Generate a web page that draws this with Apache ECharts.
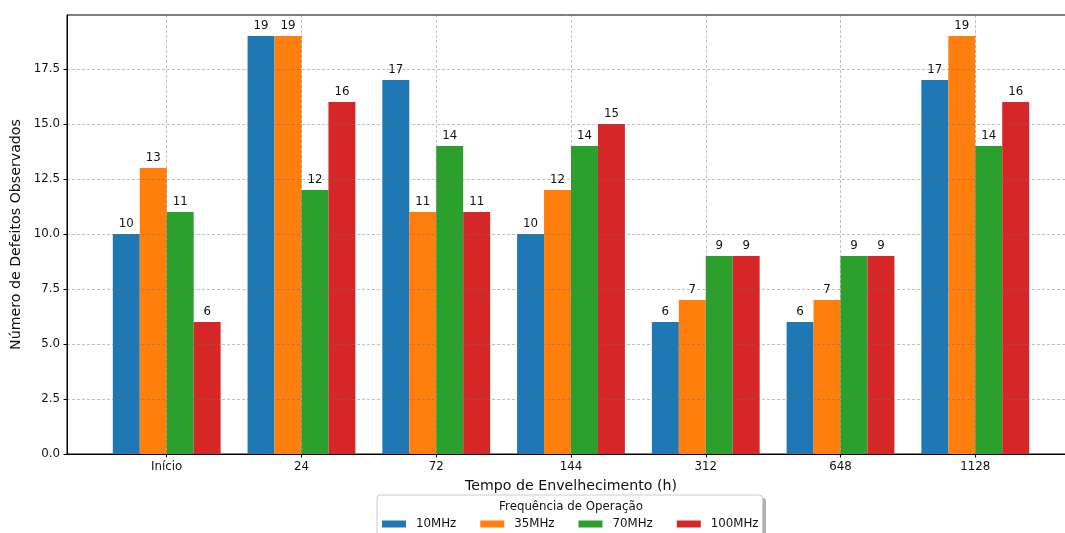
<!DOCTYPE html>
<html>
<head>
<meta charset="utf-8">
<script src="https://cdn.jsdelivr.net/npm/echarts@6/dist/echarts.min.js"></script>
<style>html,body{margin:0;padding:0;background:#fff}#c{width:1065px;height:533px}</style>
</head>
<body>
<div id="c"></div>
<script>
const categories = ['Início', '24', '72', '144', '312', '648', '1128'];
const seriesNames = ['10MHz', '35MHz', '70MHz', '100MHz'];
const v10 = [10, 19, 17, 10, 6, 6, 17];
const v35 = [13, 19, 11, 12, 7, 7, 19];
const v70 = [11, 12, 14, 14, 9, 9, 14];
const v100 = [6, 16, 11, 15, 9, 9, 16];
const yTicks = [0, 2.5, 5, 7.5, 10, 12.5, 15, 17.5];
const colors = ['#1f77b4', '#ff7f0e', '#2ca02c', '#d62728'];
const allValues = [v10, v35, v70, v100];

const barW = 0.2;
const FONT = 'DejaVu Sans';
const small = 11.8, big = 14.2;

const chart = echarts.init(document.getElementById('c'));
const gridStyle = {show: true, lineStyle: {color: 'rgba(110,110,110,0.55)', width: 0.8, type: [3, 2]}};

const series = allValues.map((vals, j) => ({
  type: 'custom',
  name: seriesNames[j],
  itemStyle: {color: colors[j]},
  z: 2,
  data: vals.map((v, i) => [i, v]),
  renderItem: function (params, api) {
    const x = api.value(0) + (j - 1.5) * barW;
    const v = api.value(1);
    const p0 = api.coord([x - barW / 2, v]);
    const p1 = api.coord([x + barW / 2, 0]);
    return {
      type: 'rect',
      shape: {x: p0[0], y: p0[1], width: p1[0] - p0[0], height: p1[1] - p0[1]},
      style: {fill: colors[j]},
      textContent: {style: {text: String(v), fill: '#111', fontSize: small, fontFamily: FONT}},
      textConfig: {position: 'top', distance: 4}
    };
  }
}));

chart.setOption({
  animation: false,
  grid: {left: 67, top: 15, width: 1008, height: 439, containLabel: false, outerBoundsMode: 'none',
         show: true, borderColor: '#000', borderWidth: 1, backgroundColor: 'transparent'},
  xAxis: {
    type: 'value', min: -0.74, max: 6.74, z: 5,
    name: 'Tempo de Envelhecimento (h)', nameLocation: 'middle', nameGap: 25,
    nameTextStyle: {fontSize: big, fontFamily: FONT, color: '#111'},
    axisLine: {show: true, onZero: false, lineStyle: {color: '#000', width: 1}},
    axisTick: {show: true, length: 3.5, lineStyle: {color: '#000'}, customValues: categories.map((c, i) => i)},
    axisLabel: {margin: 7, fontSize: small, fontFamily: FONT, color: '#111', customValues: categories.map((c, i) => i), formatter: v => categories[Math.round(v)]},
    splitLine: gridStyle
  },
  yAxis: {
    type: 'value', min: 0, max: 19.95, z: 5,
    name: 'Número de Defeitos Observados', nameLocation: 'middle', nameGap: 43, nameRotate: 90,
    nameTextStyle: {fontSize: big, fontFamily: FONT, color: '#111'},
    axisLine: {show: true, onZero: false, lineStyle: {color: '#000', width: 1}},
    axisTick: {show: true, length: 3.5, lineStyle: {color: '#000'}, customValues: yTicks},
    axisLabel: {margin: 7, fontSize: small, fontFamily: FONT, color: '#111', customValues: yTicks, formatter: v => v.toFixed(1)},
    splitLine: gridStyle
  },
  legend: {
    data: seriesNames,
    left: 377, top: 495, z: 10,
    orient: 'horizontal',
    padding: [22, 4, 6, 5],
    itemWidth: 24, itemHeight: 7, itemGap: 24,
    icon: 'rect',
    backgroundColor: '#fff',
    borderColor: '#cccccc', borderWidth: 1, borderRadius: 3,
    textStyle: {fontSize: small, fontFamily: FONT, color: '#111', padding: [0, 0, 0, 5], lineHeight: 14}
  },
  graphic: [{
    type: 'rect', z: 1, x: 380, y: 498,
    shape: {width: 386, height: 60, r: 3},
    style: {fill: 'rgba(0,0,0,0.3)'}
  }, {
    type: 'text', x: 571, y: 507, z: 100,
    style: {text: 'Frequência de Operação', fontSize: small, fontFamily: FONT, fill: '#111', textAlign: 'center', textVerticalAlign: 'middle'}
  }],
  series: series
});
</script>
</body>
</html>
